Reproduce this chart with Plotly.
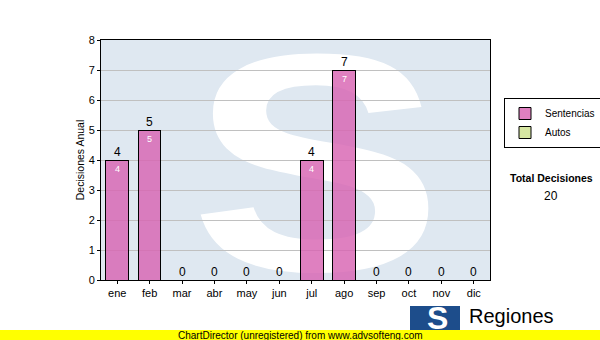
import base64
import plotly.graph_objects as go

months = ["ene", "feb", "mar", "abr", "may", "jun", "jul", "ago", "sep", "oct", "nov", "dic"]
sentencias = [4, 5, 0, 0, 0, 0, 4, 7, 0, 0, 0, 0]
autos = [0, 0, 0, 0, 0, 0, 0, 0, 0, 0, 0, 0]
totals = [s + a for s, a in zip(sentencias, autos)]
total_decisiones = sum(totals)

FONT = "Liberation Sans, Arial, sans-serif"

# watermark "S" as svg image behind the bars
svg = (
    '<svg xmlns="http://www.w3.org/2000/svg" width="389" height="240" viewBox="0 0 389 240">'
    '<text x="0" y="0" font-family="Liberation Sans, Arial" font-weight="bold" font-size="310" '
    'fill="#ffffff" transform="translate(88.7,230) scale(1.226,1)">S</text></svg>'
)
svg_uri = "data:image/svg+xml;base64," + base64.b64encode(svg.encode()).decode()

fig = go.Figure()
fig.add_trace(go.Bar(
    x=months, y=sentencias, name="Sentencias",
    marker=dict(color="rgba(216,100,178,0.82)", line=dict(color="black", width=1)),
))
fig.add_trace(go.Bar(
    x=months, y=autos, name="Autos",
    marker=dict(color="#d6e6a2", line=dict(color="black", width=1)),
))

annotations = []
for m, t in zip(months, totals):
    annotations.append(dict(x=m, y=t, xref="x", yref="y", text=str(t), showarrow=False,
                            yanchor="bottom", yshift=-1, font=dict(family=FONT, size=12, color="black")))
for m, s in zip(months, sentencias):
    if s > 0:
        annotations.append(dict(x=m, y=s, xref="x", yref="y", text=str(s), showarrow=False,
                                yanchor="top", yshift=-2, font=dict(family=FONT, size=9, color="white")))

annotations += [
    dict(x=1.157, y=0.425, xref="paper", yref="paper", text="<b>Total Decisiones</b>", showarrow=False,
         xanchor="center", yanchor="middle", font=dict(family=FONT, size=10.5, color="black")),
    dict(x=1.157, y=0.35, xref="paper", yref="paper", text=str(total_decisiones), showarrow=False,
         xanchor="center", yanchor="middle", font=dict(family=FONT, size=12, color="black")),
    dict(x=(300 - 101) / 389, y=(280 - 335) / 240, xref="paper", yref="paper",
         text="ChartDirector (unregistered) from www.advsofteng.com", showarrow=False,
         xanchor="center", yanchor="middle", font=dict(family=FONT, size=10, color="black")),
    dict(x=(467 - 101) / 389, y=(280 - 316) / 240, xref="paper", yref="paper", text="Regiones",
         showarrow=False, xanchor="left", yanchor="middle", font=dict(family=FONT, size=20, color="black")),
    dict(x=(437 - 101) / 389, y=(280 - 318) / 240, xref="paper", yref="paper", text="<b>S</b>",
         showarrow=False, xanchor="center", yanchor="middle", font=dict(family=FONT, size=32, color="white")),
]

shapes = [
    dict(type="rect", xref="paper", yref="paper",
         x0=(410 - 101) / 389, x1=(460 - 101) / 389, y0=(280 - 306) / 240, y1=(280 - 336) / 240,
         fillcolor="#1d4d8b", line=dict(width=0), layer="above"),
    dict(type="rect", xref="paper", yref="paper",
         x0=-101 / 389, x1=(600 - 101) / 389, y0=(280 - 330) / 240, y1=(280 - 341) / 240,
         fillcolor="#ffff00", line=dict(width=0), layer="above"),
]

fig.update_layout(
    width=600, height=340,
    margin=dict(l=101, r=110, t=40, b=60, autoexpand=False),
    paper_bgcolor="white", plot_bgcolor="#dfe8f1",
    barmode="stack", bargap=0.3,
    showlegend=True,
    legend=dict(x=(504 - 101) / 389, y=(280 - 98) / 240, xanchor="left", yanchor="top", traceorder="normal",
                bgcolor="white", bordercolor="black", borderwidth=1,
                font=dict(family=FONT, size=10, color="black"), itemwidth=30,
                tracegroupgap=0),
    font=dict(family=FONT, size=11, color="black"),
    xaxis=dict(showline=True, linecolor="black", linewidth=1, mirror=True,
               ticks="outside", ticklen=3, tickcolor="black", showgrid=False,
               tickfont=dict(family=FONT, size=11, color="black")),
    yaxis=dict(range=[0, 8], dtick=1, showline=True, linecolor="black", linewidth=1, mirror=True,
               ticks="outside", ticklen=3, tickcolor="black", showgrid=True, gridcolor="#c0c0c0",
               gridwidth=1, zeroline=False,
               tickfont=dict(family=FONT, size=11, color="black"),
               title=dict(text="Decisiones Anual", standoff=1, font=dict(family=FONT, size=10.5, color="black"))),
    images=[dict(source=svg_uri, xref="paper", yref="paper", x=0, y=1, sizex=1, sizey=1,
                 xanchor="left", yanchor="top", sizing="stretch", layer="below")],
    annotations=annotations,
    shapes=shapes,
)

fig.write_html("out.html")
